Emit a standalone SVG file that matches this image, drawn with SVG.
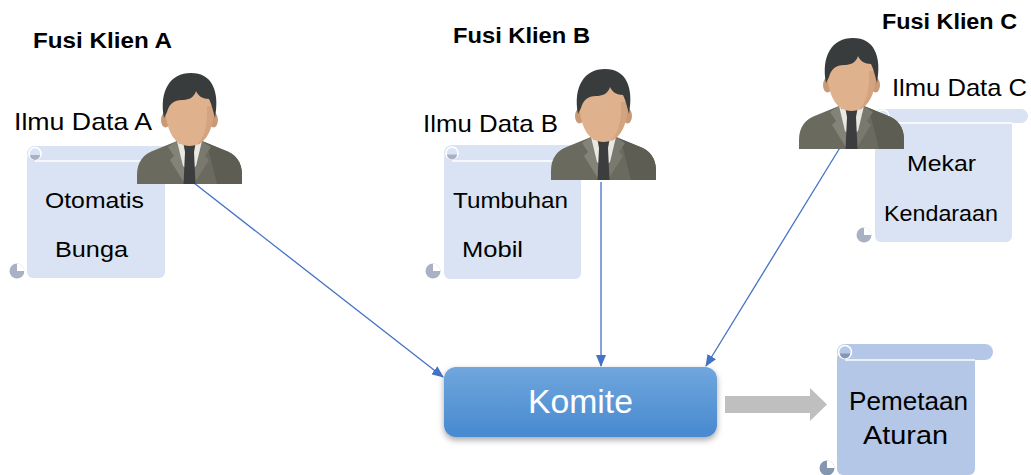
<svg xmlns="http://www.w3.org/2000/svg" width="1031" height="475" viewBox="0 0 1031 475">
  <style>
    .head { font-family: "Liberation Sans", Arial, sans-serif; font-weight: bold; font-size: 22px; fill: #000; }
    .lbl { font-family: "Liberation Sans", Arial, sans-serif; font-size: 24px; fill: #000; }
    .txt { font-family: "Liberation Sans", Arial, sans-serif; font-size: 22px; fill: #000; }
    .txtP { font-family: "Liberation Sans", Arial, sans-serif; font-size: 25px; fill: #000; }
    .light { fill: #dae3f3; }
    .lightShade { fill: #a9b2c3; }
    .dark { fill: #b4c7e7; }
    .darkShade { fill: #8596b1; }
    .sep { stroke: #ffffff; stroke-width: 1.6; fill: none; }
    .conn { stroke: #4472c4; stroke-width: 1.3; fill: none; marker-end: url(#arrow); }
  </style>
  <defs>
    <marker id="arrow" viewBox="0 0 12 10" refX="11" refY="5" markerWidth="12" markerHeight="10" markerUnits="userSpaceOnUse" orient="auto">
      <path d="M0,0 L12,5 L0,10 Z" fill="#4472c4"/>
    </marker>
    <linearGradient id="komiteGrad" x1="0" y1="0" x2="0" y2="1">
      <stop offset="0" stop-color="#70a7dd"/>
      <stop offset="1" stop-color="#4789d0"/>
    </linearGradient>
    <filter id="shadow" x="-10%" y="-20%" width="120%" height="150%">
      <feDropShadow dx="0" dy="3" stdDeviation="3" flood-color="#000" flood-opacity="0.35"/>
    </filter>
    <!-- business person icon, 105 x 112 box -->
    <g id="person">
      <path d="M0,112 L0,103 C0,90 6,82 18,78 L40,69 L65,69 L87,78 C99,82 105,90 105,103 L105,112 Z" fill="#6b6a5e"/>
      <path d="M65,69 L87,78 C99,82 105,90 105,103 L105,112 L80,112 L72,80 Z" fill="#5e5d53"/>
      <path d="M40,69 L31,75 L37,84 L33,88 L48,112 L50,112 L46,80 Z" fill="#84837a"/>
      <path d="M65,69 L74,75 L68,84 L72,88 L57,112 L55,112 L59,80 Z" fill="#7a796f"/>
      <path d="M40,69 L65,69 L59,94 L52.5,99 L46,94 Z" fill="#e9e9e1"/>
      <rect x="42" y="56" width="21" height="16" fill="#d3a27f"/>
      <path d="M42,64 C47,70 58,70 63,64 L63,70 L42,70 Z" fill="#c0906e"/>
      <path d="M46.5,72 L58.5,72 L57,80 L48,80 Z" fill="#3b3d3e"/>
      <path d="M48,80 L57,80 L58.5,112 L46.5,112 Z" fill="#3b3d3e"/>
      <ellipse cx="28.5" cy="48" rx="4.5" ry="7.5" fill="#c99a76"/>
      <ellipse cx="76.5" cy="48" rx="4.5" ry="7.5" fill="#c99a76"/>
      <path d="M28,30 C28,14 40,8 52.5,8 C65,8 77,14 77,30 C77,58 68,74 52.5,74 C37,74 28,58 28,30 Z" fill="#dfb18d"/>
      <path d="M60,73 C70,69 77,56 77,34 L70,34 C71,55 66,67 60,73 Z" fill="#d4a480"/>
      <path d="M27,46 C22,19 33,1 54,1 C75,1 83,19 78,46 C76,39 75,33 72,27 C66,27 61,24 59,19 C57,26 51,28 45,28 C37,28 32,32 30,40 Z" fill="#393c3d"/>
    </g>
  </defs>

  <!-- data scrolls -->
  <g id="scroll-a">
    <rect class="light" x="27" y="153" width="138" height="125" rx="6"/>
    <rect class="light" x="27" y="146" width="156" height="15" rx="7.5"/>
    <path class="sep" d="M35,161 H165"/>
    <circle class="light" cx="35" cy="153.5" r="6" stroke="#fff" stroke-width="1.6"/>
    <path class="lightShade" d="M30,155 a5,5 0 0 0 10,0 Z"/>
    <circle class="lightShade" cx="17" cy="271" r="7.5"/>
    <path d="M17,271 L17,263.5 A7.5,7.5 0 0 1 24.5,271 Z" fill="#fff"/>
    <path class="sep" d="M25,270 V279"/>
  </g>
  <g id="scroll-b">
    <rect class="light" x="444" y="152" width="137" height="127" rx="6"/>
    <rect class="light" x="444" y="145" width="156" height="16" rx="8"/>
    <path class="sep" d="M452,161 H581"/>
    <circle class="light" cx="452" cy="153" r="6" stroke="#fff" stroke-width="1.6"/>
    <path class="lightShade" d="M447,154.5 a5,5 0 0 0 10,0 Z"/>
    <circle class="lightShade" cx="433" cy="271" r="7.5"/>
    <path d="M433,271 L433,263.5 A7.5,7.5 0 0 1 440.5,271 Z" fill="#fff"/>
    <path class="sep" d="M442,270 V280"/>
  </g>
  <g id="scroll-c">
    <rect class="light" x="875" y="116" width="137" height="126" rx="6"/>
    <rect class="light" x="875" y="109" width="153" height="14" rx="7"/>
    <path class="sep" d="M883,123 H1012"/>
    <circle class="light" cx="883" cy="116" r="6" stroke="#fff" stroke-width="1.6"/>
    <circle class="lightShade" cx="864" cy="235" r="7.5"/>
    <path d="M864,235 L864,227.5 A7.5,7.5 0 0 1 871.5,235 Z" fill="#fff"/>
    <path class="sep" d="M873,234 V243"/>
  </g>
  <g id="scroll-rules">
    <rect class="dark" x="837" y="352" width="138" height="123" rx="6"/>
    <rect class="dark" x="837" y="344" width="156" height="16" rx="8"/>
    <path class="sep" d="M845,360 H975"/>
    <circle class="dark" cx="845" cy="352" r="6.5" stroke="#fff" stroke-width="1.6"/>
    <path class="darkShade" d="M840,353.5 a5,5 0 0 0 10,0 Z"/>
    <circle class="darkShade" cx="827" cy="468" r="7.5"/>
    <path d="M827,468 L827,460.5 A7.5,7.5 0 0 1 834.5,468 Z" fill="#fff"/>
    <path class="sep" d="M836,467 V476"/>
  </g>

  <!-- connectors -->
  <g id="connectors">
    <path class="conn" d="M194,183 L443,377"/>
    <path class="conn" d="M601,182 L601,366"/>
    <path class="conn" d="M841,146 L706,366"/>
    <path d="M725,396 H810 V388 L827,404.5 L810,421 V413 H725 Z" fill="#bfbfbf"/>
  </g>

  <!-- clients -->
  <g id="client-a">
    <text class="head" x="33" y="48" textLength="139" lengthAdjust="spacingAndGlyphs">Fusi Klien A</text>
    <text class="lbl" x="14" y="130" textLength="138" lengthAdjust="spacingAndGlyphs">Ilmu Data A</text>
    <use href="#person" x="137" y="72"/>
    <text class="txt" x="45" y="208" textLength="99" lengthAdjust="spacingAndGlyphs">Otomatis</text>
    <text class="txt" x="55" y="257" textLength="73" lengthAdjust="spacingAndGlyphs">Bunga</text>
  </g>
  <g id="client-b">
    <text class="head" x="453" y="43" textLength="137" lengthAdjust="spacingAndGlyphs">Fusi Klien B</text>
    <text class="lbl" x="423" y="132" textLength="135" lengthAdjust="spacingAndGlyphs">Ilmu Data B</text>
    <use href="#person" x="551" y="68"/>
    <text class="txt" x="453" y="208" textLength="115" lengthAdjust="spacingAndGlyphs">Tumbuhan</text>
    <text class="txt" x="462" y="257" textLength="61" lengthAdjust="spacingAndGlyphs">Mobil</text>
  </g>
  <g id="client-c">
    <text class="head" x="882" y="29" textLength="135" lengthAdjust="spacingAndGlyphs">Fusi Klien C</text>
    <text class="lbl" x="892" y="96" textLength="135" lengthAdjust="spacingAndGlyphs">Ilmu Data C</text>
    <use href="#person" x="799" y="37"/>
    <text class="txt" x="907" y="171" textLength="69" lengthAdjust="spacingAndGlyphs">Mekar</text>
    <text class="txt" x="884" y="221" textLength="114" lengthAdjust="spacingAndGlyphs">Kendaraan</text>
  </g>

  <!-- committee -->
  <g id="komite">
    <rect x="444" y="367" width="273" height="70" rx="12" fill="url(#komiteGrad)" filter="url(#shadow)"/>
    <text x="580.5" y="413" text-anchor="middle" font-family="Liberation Sans, Arial, sans-serif" font-size="34" fill="#ffffff" textLength="105" lengthAdjust="spacingAndGlyphs">Komite</text>
  </g>

  <!-- result -->
  <g id="rules">
    <text class="txtP" x="849" y="410" textLength="119" lengthAdjust="spacingAndGlyphs">Pemetaan</text>
    <text class="txtP" x="863" y="444" textLength="85" lengthAdjust="spacingAndGlyphs">Aturan</text>
  </g>
</svg>
